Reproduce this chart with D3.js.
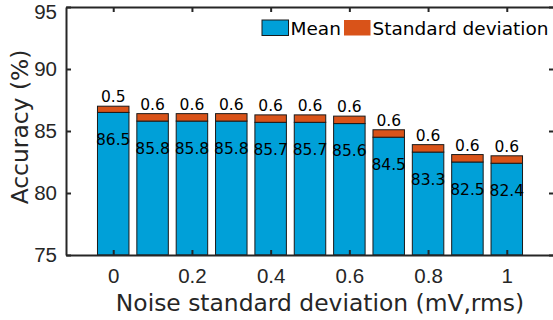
<!DOCTYPE html>
<html>
<head>
<meta charset="utf-8">
<script src="https://cdn.jsdelivr.net/npm/d3@7"></script>
<style>
  body { margin: 0; background: #fff; }
  svg { display: block; }
</style>
</head>
<body>
<svg id="chart" width="553" height="320"></svg>
<script>
// data
const noiseLevels = [0, 0.1, 0.2, 0.3, 0.4, 0.5, 0.6, 0.7, 0.8, 0.9, 1]
const meanAcc = [86.5, 85.8, 85.8, 85.8, 85.7, 85.7, 85.6, 84.5, 83.3, 82.5, 82.4]
const stdAcc = [0.5, 0.6, 0.6, 0.6, 0.6, 0.6, 0.6, 0.6, 0.6, 0.6, 0.6]
const xTicks = [0, 0.2, 0.4, 0.6, 0.8, 1]
const yTicks = [75, 80, 85, 90, 95]
const seriesNames = ['Mean', 'Standard deviation']

const width = 553
const height = 320
const margin = { top: 7, right: -1, bottom: 65, left: 66 }
const font = 'DejaVu Sans, sans-serif'
const axisColor = '#262626'
const colors = ['#00a0d8', '#d95319']
const barWidth = 0.08

const svg = d3.select('#chart')

const x = d3.scaleLinear()
  .domain([-0.12, 1.12])
  .range([margin.left, width - margin.right])

const y = d3.scaleLinear()
  .domain([75, 95])
  .range([height - margin.bottom, margin.top])

const rows = noiseLevels.map((n, i) => ({ n, mean: meanAcc[i], sd: stdAcc[i] }))

// bars: mean part and std part stacked
const bars = svg.append('g').attr('stroke', '#1a1a1a').attr('stroke-width', 1)

bars.selectAll('rect.mean')
  .data(rows)
  .join('rect')
  .attr('class', 'mean')
  .attr('x', (d) => x(d.n - barWidth / 2))
  .attr('width', (d) => x(d.n + barWidth / 2) - x(d.n - barWidth / 2))
  .attr('y', (d) => y(d.mean))
  .attr('height', (d) => y(75) - y(d.mean))
  .attr('fill', colors[0])

bars.selectAll('rect.sd')
  .data(rows)
  .join('rect')
  .attr('class', 'sd')
  .attr('x', (d) => x(d.n - barWidth / 2))
  .attr('width', (d) => x(d.n + barWidth / 2) - x(d.n - barWidth / 2))
  .attr('y', (d) => y(d.mean + d.sd))
  .attr('height', (d) => y(d.mean) - y(d.mean + d.sd))
  .attr('fill', colors[1])

// value labels
const labels = svg.append('g')
  .attr('font-family', font)
  .attr('font-size', 15.5)
  .attr('fill', '#000')
  .attr('text-anchor', 'middle')

labels.selectAll('text.m')
  .data(rows)
  .join('text')
  .attr('class', 'm')
  .attr('x', (d) => x(d.n))
  .attr('y', (d) => y(d.mean - 2.2))
  .attr('dy', '0.36em')
  .text((d) => d.mean.toFixed(1))

labels.selectAll('text.s')
  .data(rows)
  .join('text')
  .attr('class', 's')
  .attr('x', (d) => x(d.n))
  .attr('y', (d) => y(d.mean + d.sd) - 4)
  .text((d) => d.sd.toFixed(1))

// axes (box on, ticks inside)
const axes = svg.append('g')
  .attr('font-family', font)
  .attr('color', axisColor)

function styleAxis(g) {
  g.select('.domain').attr('stroke-width', 2)
  g.selectAll('.tick line').attr('stroke-width', 2)
  g.selectAll('.tick text').attr('font-size', 20.5).attr('fill', axisColor)
}

axes.append('g')
  .attr('transform', `translate(0,${y(75)})`)
  .call(d3.axisBottom(x).tickValues(xTicks).tickFormat(d3.format('')).tickSizeInner(-5).tickSizeOuter(0).tickPadding(13))
  .call(styleAxis)

axes.append('g')
  .attr('transform', `translate(0,${y(95)})`)
  .call(d3.axisTop(x).tickValues(xTicks).tickFormat('').tickSizeInner(-5).tickSizeOuter(0))
  .call(styleAxis)

const yAxis = axes.append('g')
  .attr('transform', `translate(${x(-0.12)},0)`)
  .call(d3.axisLeft(y).tickValues(yTicks).tickSizeInner(-5).tickSizeOuter(0).tickPadding(9))
  .call(styleAxis)

// top label is nudged down so it stays inside the figure
yAxis.selectAll('.tick text').filter((d) => d === 95).attr('dy', '0.55em')

axes.append('g')
  .attr('transform', `translate(${x(1.12)},0)`)
  .call(d3.axisRight(y).tickValues(yTicks).tickFormat('').tickSizeInner(-5).tickSizeOuter(0))
  .call(styleAxis)

// axis titles
svg.append('text')
  .attr('x', 320)
  .attr('y', 311)
  .attr('text-anchor', 'middle')
  .attr('font-family', font)
  .attr('font-size', 23.4)
  .attr('fill', axisColor)
  .text('Noise standard deviation (mV,rms)')

svg.append('text')
  .attr('transform', `translate(28,127) rotate(-90)`)
  .attr('text-anchor', 'middle')
  .attr('font-family', font)
  .attr('font-size', 23.4)
  .attr('fill', axisColor)
  .text('Accuracy (%)')

// legend
const legend = svg.append('g')
  .attr('font-family', font)
  .attr('font-size', 18.5)
  .attr('fill', '#000')

const legendItems = [
  { name: seriesNames[0], color: colors[0], x: 262 },
  { name: seriesNames[1], color: colors[1], x: 344 },
]

legendItems.forEach((item) => {
  legend.append('rect')
    .attr('x', item.x)
    .attr('y', 20)
    .attr('width', 26.5)
    .attr('height', 15.5)
    .attr('fill', item.color)
    .attr('stroke', item.color === colors[0] ? '#1a1a1a' : 'none')
    .attr('stroke-width', 1)
  legend.append('text')
    .attr('x', item.x + 28.5)
    .attr('y', 35)
    .text(item.name)
})
</script>
</body>
</html>
